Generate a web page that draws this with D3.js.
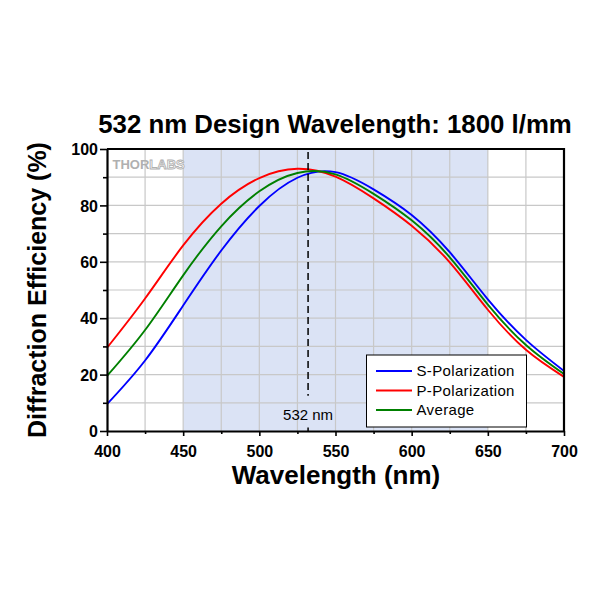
<!DOCTYPE html>
<html>
<head>
<meta charset="utf-8">
<script src="https://cdn.jsdelivr.net/npm/d3@7"></script>
<style>
  html, body { margin: 0; padding: 0; background: #fff; }
  text { font-family: "Liberation Sans", Arial, sans-serif; }
</style>
</head>
<body>
<svg id="chart" width="600" height="600"></svg>
<script>
// ---- data ----
const wavelengths = [400, 425, 450, 475, 500, 525, 550, 575, 600, 625, 650, 675, 700];
const sPolarization = [9.5, 25, 44.5, 64, 79.8, 89.8, 91.8, 85.7, 76.6, 63.4, 46.7, 32.3, 21.3];
const pPolarization = [29.5, 47, 65.8, 80.6, 89.7, 93, 90.2, 82.5, 72.8, 59.8, 43, 28.8, 19.2];
const average = [19.5, 35.8, 55.2, 72.6, 85, 91.5, 91, 84.1, 74.7, 61.6, 44.8, 30.5, 20.2];
const seriesNames = ["S-Polarization", "P-Polarization", "Average"];
const seriesColors = ["#0000ff", "#ff0000", "#008000"];
const xMajorTicks = [400, 450, 500, 550, 600, 650, 700];
const xMinorTicks = [425, 475, 525, 575, 625, 675];
const yMajorTicks = [0, 20, 40, 60, 80, 100];
const yMinorTicks = [10, 30, 50, 70, 90];
const xGrid = [425, 450, 475, 500, 525, 550, 575, 600, 625, 650, 675];
const yGrid = [10, 20, 30, 40, 50, 60, 70, 80, 90];
const shadeRange = [450, 650];
const designWavelength = 532;
const titleText = "532 nm Design Wavelength: 1800 l/mm";
const xLabel = "Wavelength (nm)";
const yLabel = "Diffraction Efficiency (%)";

// ---- layout ----
const svg = d3.select("#chart");
const x = d3.scaleLinear().domain([400, 700]).range([107, 564]);
const y = d3.scaleLinear().domain([0, 100]).range([431, 149]);

// shaded band
svg.append("rect")
  .attr("x", x(shadeRange[0])).attr("y", y(100))
  .attr("width", x(shadeRange[1]) - x(shadeRange[0]))
  .attr("height", y(0) - y(100))
  .attr("fill", "#dbe3f5");

// grid
svg.append("g").selectAll("line").data(xGrid).join("line")
  .attr("x1", d => x(d)).attr("x2", d => x(d))
  .attr("y1", y(0)).attr("y2", y(100))
  .attr("stroke", "#c8c8c8").attr("stroke-width", 1.2);
svg.append("g").selectAll("line").data(yGrid).join("line")
  .attr("x1", x(400)).attr("x2", x(700))
  .attr("y1", d => y(d)).attr("y2", d => y(d))
  .attr("stroke", "#c8c8c8").attr("stroke-width", 1.2);

// logo
const logo = svg.append("text")
  .attr("x", 112.5).attr("y", 168.5)
  .attr("font-size", 13).attr("font-weight", "bold");
logo.append("tspan").text("THOR").attr("fill", "#b0b0b0");
logo.append("tspan").text("LABS").attr("fill", "#ffffff")
  .attr("stroke", "#b0b0b0").attr("stroke-width", 0.9);

// curves
const seriesData = [sPolarization, pPolarization, average];
const line = d3.line()
  .x((d, i) => x(wavelengths[i]))
  .y(d => y(d))
  .curve(d3.curveNatural);
[0, 1, 2].forEach(k => {
  svg.append("path")
    .attr("d", line(seriesData[k]))
    .attr("fill", "none")
    .attr("stroke", seriesColors[k])
    .attr("stroke-width", 1.9);
});

// dashed design wavelength line
svg.append("line")
  .attr("x1", x(designWavelength)).attr("x2", x(designWavelength))
  .attr("y1", y(100) + 3).attr("y2", y(12.5))
  .attr("stroke", "#000").attr("stroke-width", 1.5)
  .attr("stroke-dasharray", "7,4");
svg.append("line")
  .attr("x1", x(designWavelength)).attr("x2", x(designWavelength))
  .attr("y1", y(1.2)).attr("y2", y(0))
  .attr("stroke", "#000").attr("stroke-width", 1.5);
svg.append("text")
  .attr("x", x(designWavelength)).attr("y", 419.5)
  .attr("text-anchor", "middle")
  .attr("font-size", 15)
  .text(designWavelength + " nm");

// axes
svg.append("g").attr("transform", `translate(0,${y(0)})`)
  .call(d3.axisBottom(x).tickValues(xMajorTicks).tickSize(5).tickSizeOuter(0).tickPadding(10));
svg.append("g").attr("transform", `translate(0,${y(0)})`)
  .call(d3.axisBottom(x).tickValues(xMinorTicks).tickSize(3).tickSizeOuter(0).tickFormat(""))
  .call(g => g.select(".domain").remove());
const yAxis = svg.append("g").attr("transform", `translate(${x(400)},0)`)
  .call(d3.axisLeft(y).tickValues(yMajorTicks).tickSize(7).tickSizeOuter(0).tickPadding(2));
svg.append("g").attr("transform", `translate(${x(400)},0)`)
  .call(d3.axisLeft(y).tickValues(yMinorTicks).tickSize(4).tickSizeOuter(0).tickFormat(""))
  .call(g => g.select(".domain").remove());

svg.selectAll(".tick line").attr("stroke", "#000").attr("stroke-width", 1.6);
svg.selectAll(".domain").attr("stroke", "#000").attr("stroke-width", 2.2);
svg.selectAll(".tick text")
  .attr("font-family", "'Liberation Sans', Arial, sans-serif")
  .attr("font-size", 16).attr("font-weight", "bold").attr("fill", "#000");
yAxis.selectAll(".tick text").attr("dy", "0.36em");

// frame top/right
svg.append("path")
  .attr("d", `M${x(400)},${y(100)}H${x(700)}V${y(0)}`)
  .attr("fill", "none").attr("stroke", "#000").attr("stroke-width", 2.2);

// legend
const lg = svg.append("g");
lg.append("rect")
  .attr("x", 366.5).attr("y", 355).attr("width", 160).attr("height", 72)
  .attr("fill", "#fff").attr("stroke", "#000").attr("stroke-width", 1);
seriesNames.forEach((name, i) => {
  const cy = 371 + i * 19.5;
  lg.append("line")
    .attr("x1", 376).attr("x2", 412).attr("y1", cy).attr("y2", cy)
    .attr("stroke", seriesColors[i]).attr("stroke-width", 1.9);
  lg.append("text")
    .attr("x", 416.5).attr("y", cy + 5.3)
    .attr("font-size", 15).attr("letter-spacing", 0.35)
    .text(name);
});

// titles
svg.append("text")
  .attr("x", 335).attr("y", 133.3)
  .attr("text-anchor", "middle")
  .attr("font-size", 25.8).attr("font-weight", "bold")
  .text(titleText);
svg.append("text")
  .attr("x", 336).attr("y", 483.5)
  .attr("text-anchor", "middle")
  .attr("font-size", 26).attr("font-weight", "bold")
  .text(xLabel);
svg.append("text")
  .attr("transform", "translate(45.5,290) rotate(-90)")
  .attr("text-anchor", "middle")
  .attr("font-size", 25).attr("font-weight", "bold")
  .text(yLabel);
</script>
</body>
</html>
